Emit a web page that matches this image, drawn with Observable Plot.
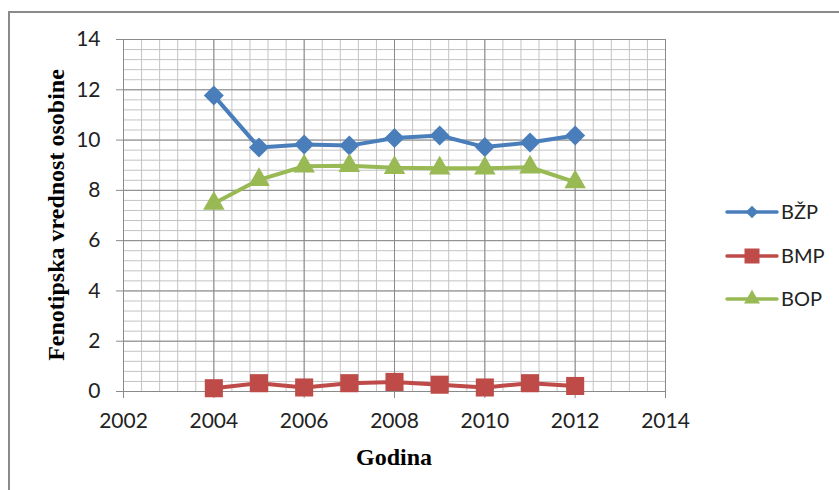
<!DOCTYPE html>
<html><head><meta charset="utf-8">
<script src="https://cdn.jsdelivr.net/npm/d3@7"></script>
<script src="https://cdn.jsdelivr.net/npm/@observablehq/plot@0.6"></script>
<style>html,body{margin:0;padding:0;background:#fff;} #chart{width:839px;height:490px;overflow:hidden;}</style>
</head><body><div id="chart"></div>
<script>
const years = [2004, 2005, 2006, 2007, 2008, 2009, 2010, 2011, 2012];
const bzp = [11.77, 9.70, 9.82, 9.78, 10.08, 10.18, 9.72, 9.90, 10.18];
const bmp = [0.13, 0.33, 0.16, 0.33, 0.38, 0.27, 0.16, 0.33, 0.22];
const bop = [7.48, 8.42, 8.96, 8.98, 8.90, 8.88, 8.88, 8.92, 8.33];
const seriesNames = ["BŽP", "BMP", "BOP"];
const seriesColors = ["#4A7EBB", "#BE4B48", "#98B954"];
const seriesSymbols = ["diamond2", "square", "triangle"];
const xMajorTicks = [2002, 2004, 2006, 2008, 2010, 2012, 2014];
const yMajorTicks = [0, 2, 4, 6, 8, 10, 12, 14];
const xTitle = "Godina";
const yTitle = "Fenotipska vrednost osobine";

const seriesValues = [bzp, bmp, bop];
const xMinor = d3.range(0, 31).map(i => 2002 + i * 0.4);
const yMinor = d3.range(0, 36).map(i => i * 0.4);
const markerR = [9, 10.2, 8];

const rows = seriesNames.flatMap((s, k) => years.map((yr, i) => ({year: yr, value: seriesValues[k][i], series: s})));

const W = 839, H = 490;
const tickFont = 21;
const plot = Plot.plot({
  width: W, height: H,
  marginLeft: 123, marginRight: 174, marginTop: 39, marginBottom: 99,
  style: {fontFamily: "Lato, 'Open Sans', sans-serif", fontSize: tickFont + "px", color: "#000", background: "transparent", overflow: "visible"},
  x: {domain: [2002, 2014], label: null},
  y: {domain: [0, 14], label: null},
  marks: [
    Plot.ruleX(xMinor, {stroke: "#C3C3C3", strokeWidth: 1}),
    Plot.ruleY(yMinor, {stroke: "#C3C3C3", strokeWidth: 1}),
    Plot.ruleX(xMajorTicks, {stroke: "#8A8A8A", strokeWidth: 1}),
    Plot.ruleY(yMajorTicks, {stroke: "#8A8A8A", strokeWidth: 1}),
    Plot.axisX({ticks: xMajorTicks, tickFormat: d => String(d), tickSize: 7, tickPadding: 15, stroke: "#8A8A8A", fill: "#222", fontSize: tickFont, label: null}),
    Plot.axisY({ticks: yMajorTicks, tickFormat: d => String(d), tickSize: 7, tickPadding: 16, stroke: "#8A8A8A", fill: "#222", fontSize: tickFont, label: null}),
    ...seriesNames.map((s, k) => Plot.line(rows.filter(d => d.series === s), {x: "year", y: "value", stroke: seriesColors[k], strokeWidth: 4})),
    ...seriesNames.map((s, k) => Plot.dot(rows.filter(d => d.series === s), {x: "year", y: "value", symbol: seriesSymbols[k], fill: seriesColors[k], stroke: "none", r: markerR[k]}))
  ]
});

document.getElementById("chart").appendChild(plot);
const svg = d3.select(plot);

// outer chart border (top and left edges visible)
svg.insert("rect", ":first-child")
  .attr("x", 9).attr("y", 12).attr("width", 900).attr("height", 900)
  .attr("fill", "none").attr("stroke", "#8A8A8A").attr("stroke-width", 2);

// axis titles
svg.append("text").text(xTitle)
  .attr("x", 394).attr("y", 465).attr("text-anchor", "middle")
  .attr("font-family", "'Liberation Serif', serif").attr("font-weight", "bold").attr("font-size", 24).attr("fill", "#000");
svg.append("text").text(yTitle)
  .attr("transform", "translate(64,215) rotate(-90)").attr("text-anchor", "middle")
  .attr("font-family", "'Liberation Serif', serif").attr("font-weight", "bold").attr("font-size", 24).attr("fill", "#000");

// legend
const legendY = [212, 256, 299];
const legendSymbols = [d3.symbolDiamond2, d3.symbolSquare, d3.symbolTriangle];
const legendSizes = [100, 225, 110];
const lg = svg.append("g").attr("class", "legend");
seriesNames.forEach((s, k) => {
  const g = lg.append("g").attr("transform", `translate(0,${legendY[k]})`);
  g.append("line").attr("x1", 727).attr("x2", 777).attr("y1", 0).attr("y2", 0)
    .attr("stroke", seriesColors[k]).attr("stroke-width", 3.5).attr("stroke-linecap", "round");
  g.append("path").attr("d", d3.symbol(legendSymbols[k], legendSizes[k])())
    .attr("transform", "translate(752,0)").attr("fill", seriesColors[k]);
  g.append("text").text(s).attr("x", 781).attr("y", 0).attr("dy", "0.36em")
    .attr("text-anchor", "start")
    .attr("font-family", "Lato, 'Open Sans', sans-serif").attr("font-size", 20).attr("fill", "#222");
});
</script>
</body></html>
